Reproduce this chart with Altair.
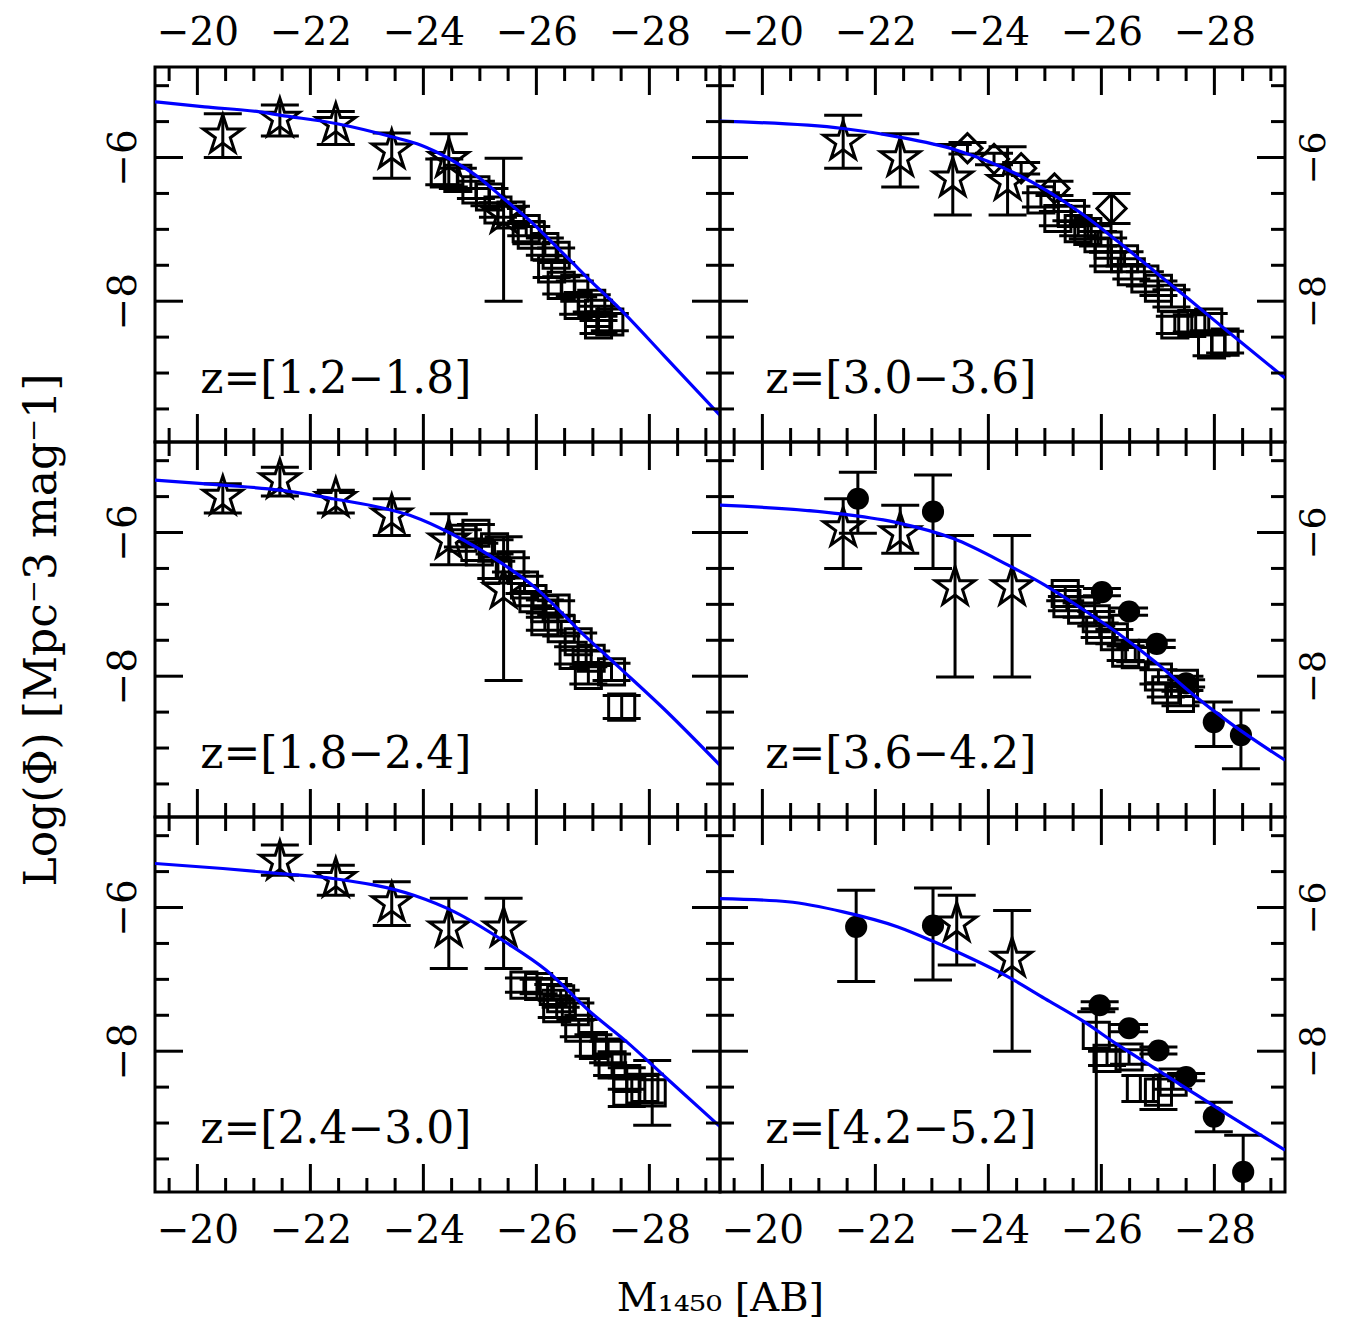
import altair as alt
import pandas as pd

FONT = "DejaVu Serif"
W, H = 565, 375
XDOM = [-19.25, -29.25]
YDOM = [-9.96, -4.74]

# tick positions
X_MAJOR = [-20, -22, -24, -26, -28]
X_MINOR = [-19.5, -20.5, -21, -21.5, -22.5, -23, -23.5, -24.5, -25, -25.5,
           -26.5, -27, -27.5, -28.5, -29]
Y_MAJOR = [-6, -8]
Y_MINOR = [-5, -5.5, -6.5, -7, -7.5, -8.5, -9, -9.5]

LABEL_X = -20.05
LABEL_Y = -9.1

# ---------------- panel A  z=[1.2-1.8] ----------------
A_LABEL = "z=[1.2\u22121.8]"
A_STAR_X = [-20.45, -21.46, -22.45, -23.44, -24.45, -25.42]
A_STAR_Y = [-5.69, -5.46, -5.53, -5.90, -6.02, -6.80]
A_STAR_HI = [-5.39, -5.27, -5.36, -5.66, -5.67, -6.01]
A_STAR_LO = [-6.00, -5.70, -5.82, -6.29, -6.41, -8.00]
A_SQ_X = [-24.37, -24.61, -24.93, -25.17, -25.32, -25.55, -25.82, -25.91, -26.15,
          -26.35, -26.27, -26.44, -26.68, -26.74, -26.98, -27.10, -27.10, -27.30]
A_SQ_Y = [-6.20, -6.29, -6.45, -6.55, -6.73, -6.80, -6.99, -7.08, -7.24,
          -7.36, -7.55, -7.78, -7.82, -8.06, -8.03, -8.17, -8.33, -8.29]
A_SQ_ERR = [0.18, 0.14, 0.12, 0.12, 0.10, 0.12, 0.10, 0.12, 0.12,
            0.10, 0.12, 0.12, 0.10, 0.12, 0.12, 0.10, 0.12, 0.12]
A_CURVE_X = [-19.25, -20.13, -21.10, -21.46, -22.45, -23.44, -23.96, -24.45, -25.0,
             -25.42, -25.97, -26.30, -26.62, -26.95, -27.47, -28.25, -29.25]
A_CURVE_Y = [-5.225, -5.295, -5.364, -5.41, -5.527, -5.712, -5.83, -6.014, -6.29,
             -6.57, -6.94, -7.20, -7.45, -7.71, -8.10, -8.75, -9.59]

# ---------------- panel B  z=[1.8-2.4] ----------------
B_LABEL = "z=[1.8\u22122.4]"
B_STAR_X = [-20.45, -21.46, -22.45, -23.44, -24.45, -25.42]
B_STAR_Y = [-5.50, -5.27, -5.53, -5.76, -6.11, -6.80]
B_STAR_HI = [-5.32, -5.09, -5.41, -5.53, -5.74, -6.06]
B_STAR_LO = [-5.73, -5.49, -5.73, -6.04, -6.45, -8.06]
B_SQ_X = [-24.70, -24.93, -24.99, -25.26, -25.29, -25.55, -25.79, -25.94, -26.15,
          -26.35, -26.15, -26.44, -26.74, -26.65, -26.97, -26.92, -27.33, -27.51]
B_SQ_Y = [-6.08, -6.01, -6.27, -6.20, -6.52, -6.45, -6.73, -6.92, -7.06,
          -7.05, -7.24, -7.34, -7.52, -7.71, -7.75, -7.99, -7.94, -8.43]
B_SQ_ERR = [0.12, 0.12, 0.12, 0.10, 0.12, 0.10, 0.12, 0.10, 0.12,
            0.10, 0.12, 0.10, 0.12, 0.12, 0.10, 0.12, 0.12, 0.16]
B_CURVE_X = [-19.25, -20.45, -21.46, -22.40, -23.44, -23.83, -24.48, -25.39, -25.97,
             -26.82, -27.47, -28.25, -29.25]
B_CURVE_Y = [-5.27, -5.34, -5.41, -5.53, -5.69, -5.78, -6.01, -6.43, -6.76,
             -7.41, -7.88, -8.45, -9.24]

# ---------------- panel C  z=[2.4-3.0] ----------------
C_LABEL = "z=[2.4\u22123.0]"
C_STAR_X = [-21.46, -22.45, -23.44, -24.45, -25.42]
C_STAR_Y = [-5.36, -5.60, -5.94, -6.29, -6.29]
C_STAR_HI = [-5.13, -5.41, -5.64, -5.87, -5.87]
C_STAR_LO = [-5.55, -5.83, -6.25, -6.85, -6.85]
C_SQ_X = [-25.78, -26.04, -26.30, -26.43, -26.36, -26.69, -26.75, -27.01, -27.27,
          -27.34, -27.60, -27.60, -27.92, -28.05]
C_SQ_Y = [-7.08, -7.10, -7.17, -7.27, -7.41, -7.45, -7.68, -7.92, -8.01,
          -8.19, -8.38, -8.57, -8.52, -8.58]
C_SQ_ERR = [0.10, 0.10, 0.10, 0.12, 0.12, 0.12, 0.12, 0.15, 0.15,
            0.15, 0.15, 0.20, 0.20, 0.45]
C_CURVE_X = [-19.25, -20.45, -21.46, -22.40, -23.83, -24.55, -25.45, -26.17, -26.95,
             -27.60, -28.31, -29.25]
C_CURVE_Y = [-5.387, -5.457, -5.527, -5.596, -5.83, -6.06, -6.48, -6.87, -7.45,
             -7.87, -8.38, -9.05]

# ---------------- panel D  z=[3.0-3.6] ----------------
D_LABEL = "z=[3.0\u22123.6]"
D_STAR_X = [-21.43, -22.44, -23.37, -24.34]
D_STAR_Y = [-5.78, -6.01, -6.29, -6.34]
D_STAR_HI = [-5.41, -5.67, -5.82, -5.85]
D_STAR_LO = [-6.15, -6.41, -6.80, -6.80]
D_DIA_X = [-23.63, -24.10, -24.58, -25.17, -26.18]
D_DIA_Y = [-5.87, -6.02, -6.15, -6.43, -6.71]
D_DIA_ERR = [0.08, 0.08, 0.08, 0.10, 0.21]
D_SQ_X = [-24.93, -25.23, -25.47, -25.59, -25.76, -25.94, -26.12, -26.12, -26.41,
          -26.53, -26.77, -27.01, -27.24, -27.30, -27.60, -27.90, -27.95, -28.19]
D_SQ_Y = [-6.59, -6.85, -6.78, -6.99, -7.03, -7.13, -7.22, -7.41, -7.41,
          -7.59, -7.69, -7.82, -7.96, -8.33, -8.31, -8.29, -8.61, -8.57]
D_SQ_ERR = [0.10, 0.10, 0.10, 0.10, 0.10, 0.10, 0.10, 0.10, 0.10,
            0.10, 0.10, 0.10, 0.12, 0.12, 0.12, 0.12, 0.15, 0.15]
D_CURVE_X = [-19.25, -21.43, -22.40, -23.44, -24.48, -25.65, -26.30, -26.95, -27.53,
             -28.25, -29.25]
D_CURVE_Y = [-5.494, -5.596, -5.712, -5.898, -6.223, -6.78, -7.174, -7.59, -7.96,
             -8.43, -9.07]

# ---------------- panel E  z=[3.6-4.2] ----------------
E_LABEL = "z=[3.6\u22124.2]"
E_STAR_X = [-21.43, -22.44, -23.41, -24.42]
E_STAR_Y = [-5.94, -6.01, -6.76, -6.76]
E_STAR_HI = [-5.53, -5.62, -6.04, -6.04]
E_STAR_LO = [-6.50, -6.29, -8.01, -8.01]
E_CIRC_X = [-21.69, -23.02, -26.01, -26.49, -26.98, -27.50, -27.99, -28.47]
E_CIRC_Y = [-5.53, -5.71, -6.83, -7.10, -7.55, -8.10, -8.64, -8.82]
E_CIRC_HI = [-5.16, -5.20, -6.78, -7.05, -7.50, -8.05, -8.36, -8.47]
E_CIRC_LO = [-6.01, -6.50, -6.88, -7.15, -7.60, -8.15, -8.98, -9.29]
E_SQ_X = [-25.36, -25.39, -25.65, -25.91, -25.97, -26.23, -26.43, -26.60, -27.01,
          -27.14, -27.40, -27.47]
E_SQ_Y = [-6.85, -6.99, -7.08, -7.20, -7.36, -7.45, -7.68, -7.70, -8.01,
          -8.19, -8.31, -8.10]
E_SQ_ERR = [0.10, 0.10, 0.10, 0.10, 0.10, 0.10, 0.10, 0.10, 0.10,
            0.10, 0.10, 0.10]
E_CURVE_X = [-19.25, -21.43, -22.40, -23.38, -24.35, -25.0, -25.65, -26.30, -26.95,
             -27.60, -28.25, -29.25]
E_CURVE_Y = [-5.62, -5.745, -5.865, -6.084, -6.455, -6.733, -7.058, -7.406, -7.80,
             -8.24, -8.636, -9.17]

# ---------------- panel F  z=[4.2-5.2] ----------------
F_LABEL = "z=[4.2\u22125.2]"
F_STAR_X = [-23.44, -24.42]
F_STAR_Y = [-6.22, -6.71]
F_STAR_HI = [-5.83, -6.04]
F_STAR_LO = [-6.80, -8.00]
F_CIRC_X = [-21.66, -23.02, -25.97, -26.49, -27.01, -27.50, -27.99, -28.51]
F_CIRC_Y = [-6.27, -6.25, -7.36, -7.68, -7.99, -8.36, -8.91, -9.68]
F_CIRC_HI = [-5.76, -5.73, -7.31, -7.63, -7.94, -8.31, -8.71, -9.17]
F_CIRC_LO = [-7.03, -7.01, -7.41, -7.73, -8.04, -8.41, -9.12, -10.2]
F_SQ_X = [-25.91, -26.10, -26.49, -26.69, -27.01, -27.27]
F_SQ_Y = [-7.78, -8.10, -8.08, -8.52, -8.57, -8.43]
F_SQ_HI = [-7.45, -8.00, -7.98, -8.34, -8.34, -8.33]
F_SQ_LO = [-10.3, -8.20, -8.18, -8.70, -8.81, -8.53]
F_CURVE_X = [-19.25, -20.45, -21.43, -22.40, -23.05, -23.70, -24.35, -25.0, -25.65,
             -26.30, -26.95, -27.60, -28.25, -29.25]
F_CURVE_Y = [-5.875, -5.92, -6.06, -6.27, -6.48, -6.71, -6.965, -7.267, -7.568,
             -7.916, -8.24, -8.566, -8.89, -9.378]

X_TITLE = "M\u2081\u2084\u2085\u2080  [AB]"
Y_TITLE = "Log(\u03a6)  [Mpc\u207b3 mag\u207b1]"

STAR_PATH = ("M0,-1L0.2245,-0.309L0.951,-0.309L0.363,0.118L0.588,0.809L0,0.382"
             "L-0.588,0.809L-0.363,0.118L-0.951,-0.309L-0.2245,-0.309Z")

LW = 3
CAP = 38
MAJ_LEN, MIN_LEN = 28, 14


def sym(xs, ys, lo, hi):
    return pd.DataFrame({"x": xs, "y": ys, "lo": lo, "hi": hi})


def sym_err(xs, ys, err):
    return pd.DataFrame({"x": xs, "y": ys,
                         "lo": [a - e for a, e in zip(ys, err)],
                         "hi": [a + e for a, e in zip(ys, err)]})


PANELS = [
    [dict(label=A_LABEL, star=sym(A_STAR_X, A_STAR_Y, A_STAR_LO, A_STAR_HI),
          sq=sym_err(A_SQ_X, A_SQ_Y, A_SQ_ERR), curve=(A_CURVE_X, A_CURVE_Y)),
     dict(label=D_LABEL, star=sym(D_STAR_X, D_STAR_Y, D_STAR_LO, D_STAR_HI),
          sq=sym_err(D_SQ_X, D_SQ_Y, D_SQ_ERR), dia=sym_err(D_DIA_X, D_DIA_Y, D_DIA_ERR),
          curve=(D_CURVE_X, D_CURVE_Y))],
    [dict(label=B_LABEL, star=sym(B_STAR_X, B_STAR_Y, B_STAR_LO, B_STAR_HI),
          sq=sym_err(B_SQ_X, B_SQ_Y, B_SQ_ERR), curve=(B_CURVE_X, B_CURVE_Y)),
     dict(label=E_LABEL, star=sym(E_STAR_X, E_STAR_Y, E_STAR_LO, E_STAR_HI),
          sq=sym_err(E_SQ_X, E_SQ_Y, E_SQ_ERR),
          circ=sym(E_CIRC_X, E_CIRC_Y, E_CIRC_LO, E_CIRC_HI),
          curve=(E_CURVE_X, E_CURVE_Y))],
    [dict(label=C_LABEL, star=sym(C_STAR_X, C_STAR_Y, C_STAR_LO, C_STAR_HI),
          sq=sym_err(C_SQ_X, C_SQ_Y, C_SQ_ERR), curve=(C_CURVE_X, C_CURVE_Y)),
     dict(label=F_LABEL, star=sym(F_STAR_X, F_STAR_Y, F_STAR_LO, F_STAR_HI),
          sq=sym(F_SQ_X, F_SQ_Y, F_SQ_LO, F_SQ_HI),
          circ=sym(F_CIRC_X, F_CIRC_Y, F_CIRC_LO, F_CIRC_HI),
          curve=(F_CURVE_X, F_CURVE_Y))],
]


def make_panel(P, row, col):
    xscale = alt.Scale(domain=XDOM, nice=False, zero=False)
    yscale = alt.Scale(domain=YDOM, nice=False, zero=False)
    lab = dict(labelFont=FONT, labelFontSize=39, labelColor="black", ticks=False,
               domain=False, grid=False, labelFlush=False, labelOverlap=False)
    if row == 0:
        xaxis = alt.Axis(orient="top", values=X_MAJOR, labelPadding=15, title=None, **lab)
    elif row == 2:
        if col == 0:
            xaxis = alt.Axis(orient="bottom", values=X_MAJOR, labelPadding=19,
                             title=X_TITLE, titleFont=FONT, titleFontSize=40,
                             titleFontWeight="normal", titleColor="black",
                             titleX=W, titleY=106, titleAlign="center",
                             titleBaseline="middle", **lab)
        else:
            xaxis = alt.Axis(orient="bottom", values=X_MAJOR, labelPadding=19,
                             title=None, **lab)
    else:
        xaxis = None
    if col == 0:
        if row == 1:
            yaxis = alt.Axis(orient="left", values=Y_MAJOR, labelAngle=270,
                             labelAlign="center", labelBaseline="bottom", labelPadding=12,
                             title=Y_TITLE, titleFont=FONT, titleFontSize=44,
                             titleFontWeight="normal", titleColor="black",
                             titlePadding=40, **lab)
        else:
            yaxis = alt.Axis(orient="left", values=Y_MAJOR, labelAngle=270,
                             labelAlign="center", labelBaseline="bottom", labelPadding=12,
                             title=None, **lab)
    else:
        rlab = dict(lab)
        rlab["labelFontSize"] = 36
        yaxis = alt.Axis(orient="right", values=Y_MAJOR, labelAngle=270,
                         labelAlign="center", labelBaseline="top", labelPadding=11,
                         title=None, **rlab)

    def X(f):
        return alt.X(f, type="quantitative", scale=xscale, axis=xaxis)

    def Y(f):
        return alt.Y(f, type="quantitative", scale=yscale, axis=yaxis)

    layers = []

    def errbars(df):
        base = alt.Chart(df)
        layers.append(base.mark_rule(color="black", strokeWidth=LW, clip=True, opacity=1)
                      .encode(x=X("x"), y=Y("lo"), y2="hi"))
        layers.append(base.mark_tick(color="black", orient="horizontal", size=CAP,
                                     thickness=LW, clip=True, opacity=1)
                      .encode(x=X("x"), y=Y("lo")))
        layers.append(base.mark_tick(color="black", orient="horizontal", size=CAP,
                                     thickness=LW, clip=True, opacity=1)
                      .encode(x=X("x"), y=Y("hi")))

    for key in ["sq", "dia", "star", "circ"]:
        if key in P:
            errbars(P[key])
    if "sq" in P:
        layers.append(alt.Chart(P["sq"]).mark_point(shape="square", size=680, filled=False,
                                                    color="black", strokeWidth=LW,
                                                    opacity=1, clip=True)
                      .encode(x=X("x"), y=Y("y")))
    if "dia" in P:
        layers.append(alt.Chart(P["dia"]).mark_point(shape="diamond", size=850, filled=False,
                                                     color="black", strokeWidth=LW,
                                                     opacity=1, clip=True)
                      .encode(x=X("x"), y=Y("y")))
    if "star" in P:
        layers.append(alt.Chart(P["star"]).mark_point(shape=STAR_PATH, size=1700,
                                                      filled=False, color="black",
                                                      strokeWidth=LW, opacity=1, clip=True)
                      .encode(x=X("x"), y=Y("y")))
    if "circ" in P:
        layers.append(alt.Chart(P["circ"]).mark_point(shape="circle", size=490, filled=True,
                                                      color="black", opacity=1, clip=True)
                      .encode(x=X("x"), y=Y("y")))

    cdf = pd.DataFrame({"x": P["curve"][0], "y": P["curve"][1]})
    layers.append(alt.Chart(cdf).mark_line(color="#0000ff", strokeWidth=3.2,
                                           interpolate="monotone", clip=True)
                  .encode(x=X("x"), y=Y("y")))

    tdf = pd.DataFrame({"x": [LABEL_X], "y": [LABEL_Y], "t": [P["label"]]})
    layers.append(alt.Chart(tdf).mark_text(font=FONT, fontSize=44, align="left",
                                           baseline="middle", color="black")
                  .encode(x=X("x"), y=Y("y"), text="t:N"))

    # inward ticks on all four sides
    for vals, ln in [(X_MAJOR, MAJ_LEN), (X_MINOR, MIN_LEN)]:
        d = pd.DataFrame({"x": vals})
        layers.append(alt.Chart(d).mark_rule(color="black", strokeWidth=LW)
                      .encode(x=X("x"), y=alt.value(H), y2=alt.value(H - ln)))
        layers.append(alt.Chart(d).mark_rule(color="black", strokeWidth=LW)
                      .encode(x=X("x"), y=alt.value(0), y2=alt.value(ln)))
    for vals, ln in [(Y_MAJOR, MAJ_LEN), (Y_MINOR, MIN_LEN)]:
        d = pd.DataFrame({"y": vals})
        layers.append(alt.Chart(d).mark_rule(color="black", strokeWidth=LW)
                      .encode(y=Y("y"), x=alt.value(0), x2=alt.value(ln)))
        layers.append(alt.Chart(d).mark_rule(color="black", strokeWidth=LW)
                      .encode(y=Y("y"), x=alt.value(W), x2=alt.value(W - ln)))

    return alt.layer(*layers).properties(width=W, height=H)


panels = []
for r in range(3):
    for c in range(2):
        panels.append(make_panel(PANELS[r][c], r, c))

chart = (alt.concat(*panels, columns=2, spacing=0, bounds="flush")
         .properties(padding={"left": 10, "top": 3, "right": 0, "bottom": 0},
                     background="white")
         .configure_view(stroke="black", strokeWidth=3))

chart.save("out.html", embed_options={"renderer": "svg", "actions": False})
